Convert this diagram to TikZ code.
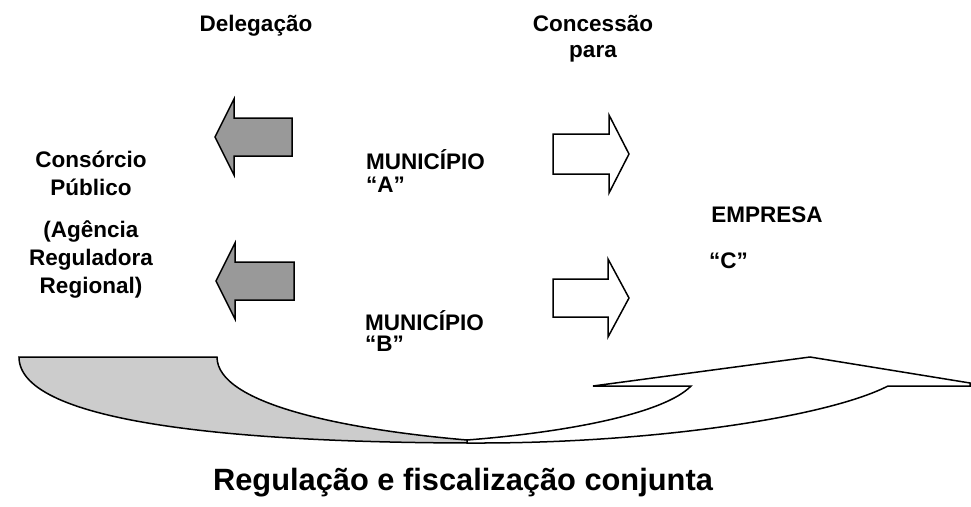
\documentclass[tikz,border=0pt]{standalone}
\usepackage{fontspec}
\setmainfont{Liberation Sans}

\tikzset{
	lbl/.style={font=\bfseries\fontsize{22.5}{28}\selectfont, inner sep=0pt, align=center, anchor=base},
	delarrow/.style={draw, line width=1.5pt, fill=black!40},
	concarrow/.style={draw, line width=1.5pt, fill=white},
	backband/.style={draw, line width=1.5pt, fill=black!20},
	frontband/.style={draw, line width=1.5pt, fill=white}
}

\begin{document}
\begin{tikzpicture}[x=1pt, y=-1pt]
	\useasboundingbox (0,0) rectangle (971,506);

	\node[lbl] (del) at (256,31) {Delega\c{c}\~ao};
	\node[lbl, font=\bfseries\fontsize{22.5}{26}\selectfont] (conc) at (593,57) {Concess\~ao\\para};
	\node[lbl] (cons) at (91,195) {Cons\'orcio\\P\'ublico};
	\node[lbl] (agen) at (91,293) {(Ag\^encia\\Reguladora\\Regional)};
	\node[lbl, align=left, anchor=base west, font=\bfseries\fontsize{22.5}{23}\selectfont] (munA) at (366,192) {MUNIC\'IPIO\\“A”};
	\node[lbl, align=left, anchor=base west, font=\bfseries\fontsize{22.5}{21}\selectfont] (munB) at (365,351) {MUNIC\'IPIO\\“B”};
	\node[lbl] (emp) at (767,222) {EMPRESA};
	\node[lbl, anchor=base west] (empC) at (709,268) {“C”};
	\node[lbl, font=\bfseries\fontsize{30.8}{36}\selectfont] (reg) at (463,490) {Regula\c{c}\~ao e fiscaliza\c{c}\~ao conjunta};

	% delegacao
	\draw[delarrow] (215,137) -- (234,99) -- (234,118) -- (292,118) -- (292,156) -- (234,156) -- (234,175) -- cycle;
	\draw[delarrow] (216,281) -- (235,243) -- (235,262) -- (294,262) -- (294,300) -- (235,300) -- (235,319) -- cycle;

	% concessao
	\draw[concarrow] (553,134) -- (609,134) -- (609,115) -- (629,154) -- (609,193) -- (609,174) -- (553,174) -- cycle;
	\draw[concarrow] (553,279) -- (608,279) -- (608,259) -- (629,298) -- (608,337) -- (608,317) -- (553,317) -- cycle;

	% regulacao conjunta
	\draw[backband] (19,357) -- (217,357) .. controls (217,405) and (350,430) .. (467,440)
		-- (480,443) .. controls (250,443) and (19,425) .. (19,357) -- cycle;
	\draw[frontband] (467,440) .. controls (570,432) and (665,413) .. (691,386)
		-- (593,386) -- (810,357) -- (970,383) -- (970,386) -- (888,386)
		.. controls (825,418) and (650,443) .. (480,443) -- (467,443) -- cycle;
\end{tikzpicture}
\end{document}
